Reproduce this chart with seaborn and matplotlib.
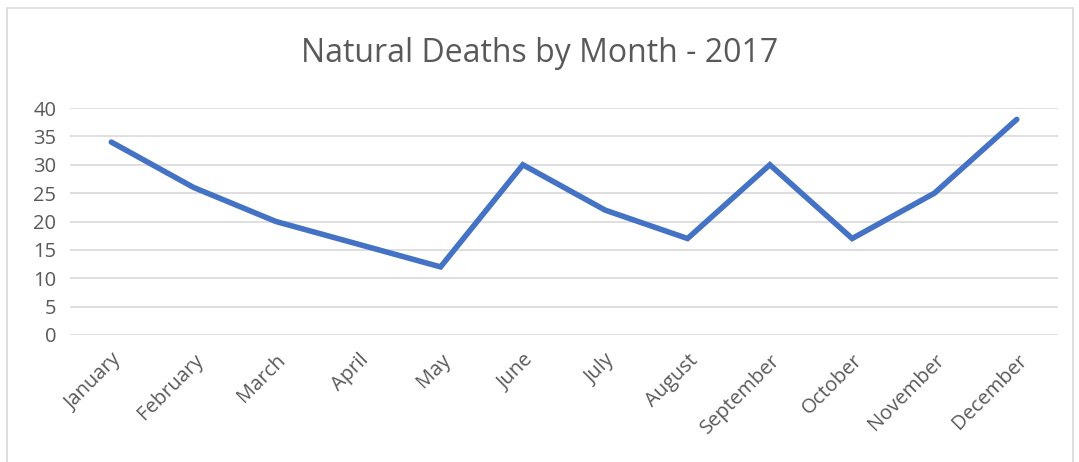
import matplotlib
matplotlib.use("Agg")
import matplotlib.pyplot as plt
import seaborn as sns
import pandas as pd
from matplotlib.patches import Rectangle

# Daten
months = ["January", "February", "March", "April", "May", "June",
          "July", "August", "September", "October", "November", "December"]
deaths = [34, 26, 20, 16, 12, 30, 22, 17, 30, 17, 25, 38]
y_ticks = [0, 5, 10, 15, 20, 25, 30, 35, 40]

df = pd.DataFrame({"month": months, "deaths": deaths})
df["pos"] = range(len(months))

sns.set_theme(style="white")
plt.rcParams["font.family"] = ["Open Sans", "DejaVu Sans"]

text_color = "#595959"
grid_color = "#D9D9D9"

fig = plt.figure(figsize=(10.79, 4.62), dpi=100)
ax = fig.add_axes([0.065, 0.2749, 0.9155, 0.4913])

# Rahmen um das Diagramm
fig.patches.append(Rectangle((7 / 1079, -0.1), 1066 / 1079, 1.1 - 8 / 462,
                             transform=fig.transFigure, fill=False,
                             edgecolor=grid_color, linewidth=1.2))

sns.lineplot(data=df, x="pos", y="deaths", ax=ax, color="#4472C4",
             linewidth=4.0, solid_capstyle="round", solid_joinstyle="miter")

ax.set_xlim(-0.5, len(months) - 0.5)
ax.set_ylim(0, 40)
ax.set_yticks(y_ticks)
ax.set_xticks(df["pos"])
ax.set_xticklabels(months, rotation=45, ha="right", rotation_mode="anchor")
ax.yaxis.grid(True, color=grid_color, linewidth=1.2)
ax.set_axisbelow(True)
for s in ax.spines.values():
    s.set_visible(False)
ax.tick_params(axis="both", length=0, labelsize=14.5, labelcolor=text_color)
ax.tick_params(axis="x", pad=11)
ax.tick_params(axis="y", pad=10)
ax.set_xlabel("")
ax.set_ylabel("")

fig.text(0.5, 0.885, "Natural Deaths by Month - 2017", ha="center", va="center",
         fontsize=23, color=text_color)

fig.savefig("out.png", dpi=100)
